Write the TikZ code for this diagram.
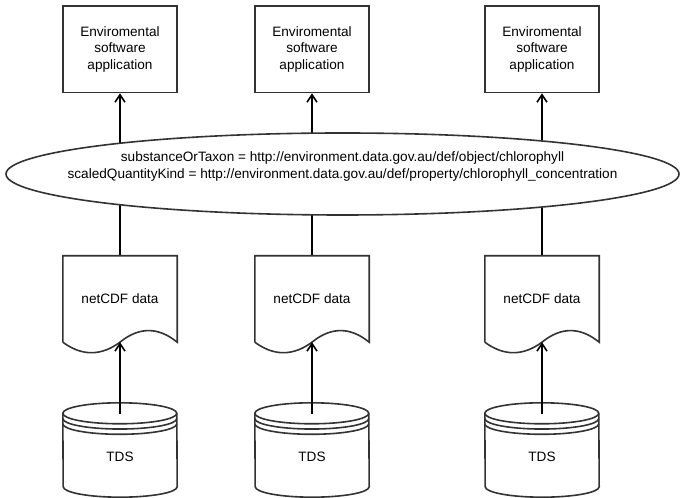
\documentclass[tikz,border=0pt]{standalone}
\usepackage{fontspec}
\setmainfont{Liberation Sans}
\usetikzlibrary{arrows.meta,backgrounds,shapes.geometric}

\begin{document}
\begin{tikzpicture}[x=1pt,y=1pt,
  txt/.style={font=\fontsize{13.6}{16.6}\selectfont, inner sep=0pt, align=center},
  shapeline/.style={draw=black!80, line width=1.6pt},
  appbox/.style={txt, shapeline, rectangle, minimum width=114pt, minimum height=86.5pt},
  docbody/.style={txt, rectangle, minimum width=114pt, minimum height=86pt},
  storebody/.style={rectangle, inner sep=0pt, minimum width=114pt, minimum height=94pt},
  conn/.style={draw=black, line width=1.7pt},
  tip/.style={-{Straight Barb[length=7.5pt,width=10pt,line width=1.6pt]}}
]
\useasboundingbox (0,0) rectangle (681,498);

% vocabulary ellipse shared by all three columns
\node[shapeline, ellipse, fill=white, minimum width=673pt, minimum height=82pt, inner sep=0pt] (vocab) at (342.5,324) {};
\node[txt] (vocabtext) at (342.5,331.3)
  {substanceOrTaxon = http://environment.data.gov.au/def/object/chlorophyll\\
   scaledQuantityKind = http://environment.data.gov.au/def/property/chlorophyll\_concentration};

% one column per data server
\foreach \i/\x in {1/120,2/312,3/542} {
  \node[appbox] (app\i) at (\x,448.75) {Enviromental\\software\\application};
  \node[docbody] (doc\i) at (\x,199) {netCDF data};
  \node[storebody] (store\i) at (\x,48) {};
  \node[txt] (storetext\i) at (\x,41) {TDS};
}

\foreach \i in {1,2,3} {
  % document shape with wavy lower edge
  \draw[shapeline] (doc\i.south west) -- (doc\i.north west) -- (doc\i.north east) -- (doc\i.south east)
    .. controls ([shift={(-19,15.5)}]doc\i.south east) and ([shift={(19,15.5)}]doc\i.south) .. (doc\i.south)
    .. controls ([shift={(-19,-14)}]doc\i.south) and ([shift={(19,-14)}]doc\i.south west) .. (doc\i.south west);
  % data store cylinder
  \draw[shapeline] ([yshift=-10.5pt]store\i.north west)
      arc[start angle=180, end angle=0, x radius=57pt, y radius=10.5pt]
      -- ([yshift=10.5pt]store\i.south east)
      arc[start angle=0, end angle=-180, x radius=57pt, y radius=10.5pt]
      -- cycle;
  \draw[shapeline] ([yshift=-10.5pt]store\i.north west)
      arc[start angle=180, end angle=360, x radius=57pt, y radius=10.5pt];
  \draw[shapeline] ([yshift=-15.75pt]store\i.north west)
      arc[start angle=180, end angle=360, x radius=57pt, y radius=10.5pt];
  \draw[shapeline] ([yshift=-21pt]store\i.north west)
      arc[start angle=180, end angle=360, x radius=57pt, y radius=10.5pt];
  % store feeds the document
  \draw[conn, tip] ([yshift=-11pt]store\i.north) -- (doc\i.south);
}

% links through the ellipse, hidden behind its fill
\begin{scope}[on background layer]
  \foreach \i in {1,2,3} {
    \draw[conn] (doc\i.north) -- (doc\i.north |- vocab.center);
    \draw[conn, tip] (app\i.south |- vocab.center) -- (app\i.south);
  }
\end{scope}
\end{tikzpicture}
\end{document}
